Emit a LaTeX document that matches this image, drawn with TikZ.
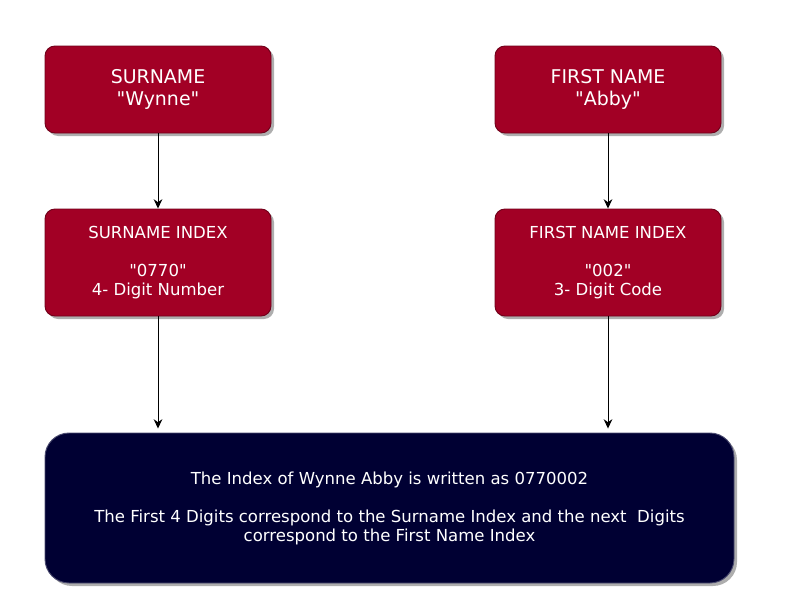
\documentclass[tikz,border=0pt]{standalone}
\usepackage{fontspec}
\setmainfont{DejaVu Sans}
\usetikzlibrary{arrows.meta,shadows}
\definecolor{namered}{HTML}{A20025}
\definecolor{resultnavy}{HTML}{000033}
\newcommand{\qt}[1]{\textquotedbl#1\textquotedbl}
\tikzset{
  namebox/.style={draw=namered!70!black, fill=namered, text=white, rounded corners=7.5pt,
    minimum width=169.5pt, minimum height=65.25pt, align=center,
    font=\fontsize{14.2}{16.5}\selectfont,
    drop shadow={shadow xshift=2.25pt, shadow yshift=-2.25pt, fill=black!45, opacity=0.7}},
  indexbox/.style={namebox, minimum height=80.25pt, font=\fontsize{12.4}{14.25}\selectfont},
  resultbox/.style={namebox, draw=resultnavy!70!white, fill=resultnavy, rounded corners=18pt,
    minimum width=516.75pt, minimum height=112.5pt, font=\fontsize{12.4}{14.25}\selectfont}
}
\begin{document}
\begin{tikzpicture}[x=0.75pt, y=-0.75pt, ->, >={Stealth[length=7pt,width=6.5pt]}, line width=0.7pt]
  \useasboundingbox (0,0) rectangle (808,600);
  %nodes
  \node[namebox] at (158,89.5) (surname) {SURNAME\\\qt{Wynne}};
  \node[namebox] at (608,89.5) (firstname) {FIRST NAME\\\qt{Abby}};
  \node[indexbox] at (158,262.5) (surnameidx) {SURNAME INDEX\\[14.25pt]\qt{0770}\\4- Digit Number};
  \node[indexbox] at (608,262.5) (firstnameidx) {FIRST NAME INDEX\\[14.25pt]\qt{002}\\3- Digit Code};
  \node[resultbox] at (389.5,508) (result) {The Index of Wynne Abby is written as 0770002\\[14.25pt]The First 4 Digits correspond to the Surname Index and the next\ \ Digits\\correspond to the First Name Index};
  \path
    (surname) edge (surnameidx)
    (firstname) edge (firstnameidx)
    (surnameidx.south) edge[shorten >=3pt] (surnameidx.south |- result.north)
    (firstnameidx.south) edge[shorten >=3pt] (firstnameidx.south |- result.north);
\end{tikzpicture}
\end{document}
